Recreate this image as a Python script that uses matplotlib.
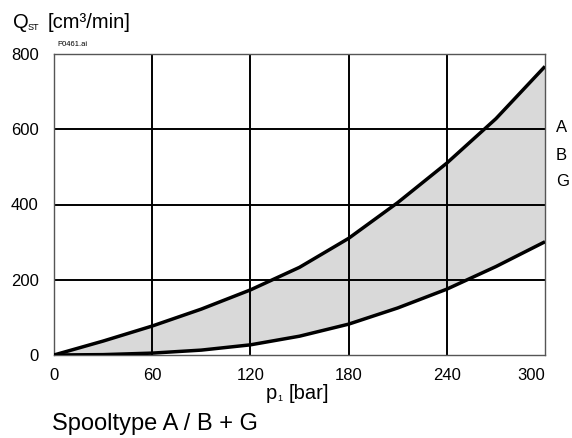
import matplotlib
matplotlib.use("Agg")
import matplotlib.pyplot as plt
import numpy as np

plt.rcParams['font.family'] = ['Liberation Sans', 'DejaVu Sans']

p = [0, 30, 60, 90, 120, 150, 180, 210, 240, 270, 300]
upper = [0, 37, 77, 122, 173, 233, 310, 405, 510, 628, 767]
lower = [0, 1, 5, 13, 27, 50, 82, 125, 175, 235, 301]
xticks = [0, 60, 120, 180, 240, 300]
yticks = [0, 200, 400, 600, 800]
side_labels = ["A", "B", "G"]

W, H = 572, 438
fig = plt.figure(figsize=(W/100, H/100), dpi=100)
ax = fig.add_axes([54/W, 1-355/H, (545-54)/W, (355-54)/H])

ax.fill_between(p, lower, upper, color='#d9d9d9', zorder=1, linewidth=0)
for g in [60, 120, 180, 240]:
    ax.axvline(g, color='black', lw=1.4, zorder=2)
for g in [200, 400, 600]:
    ax.axhline(g, color='black', lw=1.4, zorder=2)
ax.plot(p, upper, color='black', lw=2.5, zorder=3, solid_capstyle='butt')
ax.plot(p, lower, color='black', lw=2.5, zorder=3, solid_capstyle='butt')

ax.set_xlim(0, 300)
ax.set_ylim(0, 800)
ax.set_xticks(xticks)
ax.set_yticks(yticks)
ax.tick_params(length=0, labelsize=12)
ax.tick_params(axis='x', pad=9)
ax.tick_params(axis='y', pad=11)
xl = ax.get_xticklabels()
xl[-1].set_horizontalalignment('right')
for s in ax.spines.values():
    s.set_color('#555555')
    s.set_linewidth(1.0)

def t(x, y, s, size, ha='left'):
    fig.text(x/W, 1-y/H, s, fontsize=size, va='baseline', ha=ha)

# title Q_ST [cm³/min]
t(13, 27.5, "Q", 14.5)
t(28, 30, "ST", 6.5)
t(48, 27.5, "[cm³/min]", 14.5)
t(57, 46, "P0461.ai", 5.5)
# x label p_1 [bar]
t(266, 399, "p", 14.5)
t(277, 401, "1", 6.5)
t(289, 399, "[bar]", 14.5)
t(52, 430, "Spooltype A / B + G", 17)
for i, lab in enumerate(side_labels):
    fig.text(556/W, 1-(128+27*i)/H, lab, fontsize=12, va='center', ha='left')

fig.savefig("out.png", dpi=100)
